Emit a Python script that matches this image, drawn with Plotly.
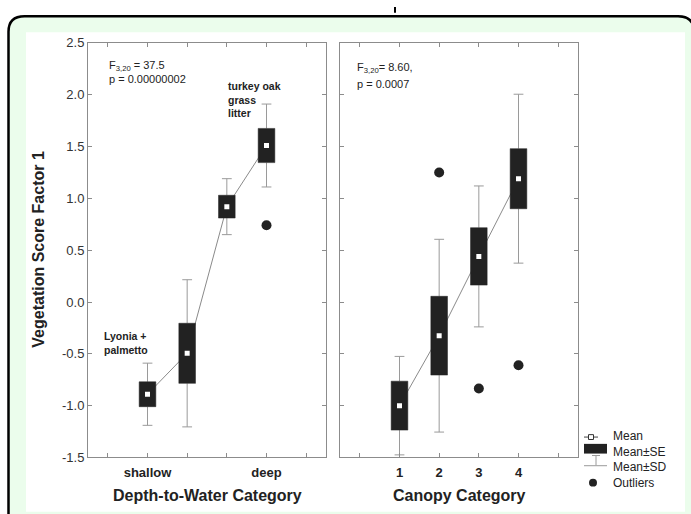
import plotly.graph_objects as go

W, H = 691, 514

# ---------------- data ----------------
positions = [1, 2, 3, 4]
depth_tickvals = [1, 4]
depth_ticktext = ["shallow", "deep"]
canopy_tickvals = [1, 2, 3, 4]
canopy_ticktext = ["1", "2", "3", "4"]

depth_mean = [-0.89, -0.495, 0.92, 1.51]
depth_se = [0.12, 0.29, 0.11, 0.165]
depth_sd = [0.30, 0.71, 0.27, 0.40]
depth_out_x = [4]
depth_out_y = [0.74]

canopy_mean = [-1.0, -0.325, 0.44, 1.19]
canopy_se = [0.236, 0.38, 0.277, 0.29]
canopy_sd = [0.475, 0.93, 0.68, 0.815]
canopy_out_x = [2, 3, 4]
canopy_out_y = [1.25, -0.835, -0.61]

y_tickvals = [-1.5, -1, -0.5, 0, 0.5, 1, 1.5, 2, 2.5]
y_ticktext = ["-1.5", "-1.0", "-0.5", "0.0", "0.5", "1.0", "1.5", "2.0", "2.5"]

legend_labels = ["Mean", "Mean±SE", "Mean±SD", "Outliers"]

BOX_HALF = 0.21
BOX_COLOR = "#222222"
WHISK_COLOR = "#9a9a9a"
LINE_COLOR = "#8a8a8a"
AXIS_COLOR = "#8c8c8c"
TXT = "#222222"
FONT = "Arial, Liberation Sans, sans-serif"


def px(x):
    return x / W


def py(y):
    return 1 - y / H


fig = go.Figure()


def add_panel(xa, ya, mean, se, sd, out_x, out_y):
    # connecting line of means
    fig.add_trace(go.Scatter(x=positions, y=mean, mode="lines",
                             line=dict(color=LINE_COLOR, width=1),
                             xaxis=xa, yaxis=ya, hoverinfo="skip"))
    # whiskers (outside the box)
    wx, wy = [], []
    cx, cy = [], []
    for p, m, s, d in zip(positions, mean, se, sd):
        wx += [p, p, None, p, p, None]
        wy += [m + s, m + d, None, m - s, m - d, None]
        cx += [p, p]
        cy += [m + d, m - d]
    fig.add_trace(go.Scatter(x=wx, y=wy, mode="lines",
                             line=dict(color=WHISK_COLOR, width=1),
                             xaxis=xa, yaxis=ya, hoverinfo="skip"))
    fig.add_trace(go.Scatter(x=cx, y=cy, mode="markers",
                             marker=dict(symbol="line-ew", size=7,
                                         line=dict(color=WHISK_COLOR, width=1)),
                             xaxis=xa, yaxis=ya, hoverinfo="skip"))
    # boxes (mean +- SE)
    bx, by = [], []
    for p, m, s in zip(positions, mean, se):
        bx += [p - BOX_HALF, p + BOX_HALF, p + BOX_HALF, p - BOX_HALF, p - BOX_HALF, None]
        by += [m - s, m - s, m + s, m + s, m - s, None]
    fig.add_trace(go.Scatter(x=bx, y=by, mode="lines", fill="toself",
                             fillcolor=BOX_COLOR, line=dict(color=BOX_COLOR, width=0.5),
                             xaxis=xa, yaxis=ya, hoverinfo="skip"))
    # mean markers
    fig.add_trace(go.Scatter(x=positions, y=mean, mode="markers",
                             marker=dict(symbol="square", size=5, color="white",
                                         line=dict(width=0)),
                             xaxis=xa, yaxis=ya, hoverinfo="skip"))
    # outliers
    fig.add_trace(go.Scatter(x=out_x, y=out_y, mode="markers",
                             marker=dict(symbol="circle", size=10, color=BOX_COLOR,
                                         line=dict(width=0)),
                             xaxis=xa, yaxis=ya, hoverinfo="skip"))


add_panel("x", "y", depth_mean, depth_se, depth_sd, depth_out_x, depth_out_y)
add_panel("x2", "y2", canopy_mean, canopy_se, canopy_sd, canopy_out_x, canopy_out_y)

ydom = [py(464), py(37)]
common_axis = dict(showline=True, linecolor=AXIS_COLOR, linewidth=1, mirror="ticks",
                   ticks="inside", ticklen=4, tickcolor=AXIS_COLOR, showgrid=False,
                   zeroline=False)
x_minor = dict(ticks="inside", tick0=0, dtick=1, ticklen=4, tickcolor=AXIS_COLOR, showgrid=False)
x_font = dict(size=13, family=FONT, color=TXT, weight="bold")

fig.update_layout(
    width=W, height=H, margin=dict(l=0, r=0, t=0, b=0),
    paper_bgcolor="white", plot_bgcolor="white", showlegend=False,
    font=dict(family=FONT, color=TXT),
    xaxis=dict(domain=[px(88), px(326)], range=[-0.5, 5.5], tickvals=depth_tickvals,
               ticktext=depth_ticktext, anchor="y", ticklabelstandoff=3, minor=x_minor,
               tickfont=x_font, **common_axis),
    yaxis=dict(domain=ydom, range=[-1.5, 2.5], tickvals=y_tickvals, ticktext=y_ticktext,
               anchor="x", tickfont=dict(size=13, color="#333333"), **common_axis),
    xaxis2=dict(domain=[px(340), px(578)], range=[-0.5, 5.5], tickvals=canopy_tickvals,
                ticktext=canopy_ticktext, anchor="y2", ticklabelstandoff=3, minor=x_minor,
                tickfont=x_font, **common_axis),
    yaxis2=dict(domain=ydom, range=[-1.5, 2.5], tickvals=y_tickvals,
                showticklabels=False, anchor="x2", **common_axis),
)

# ---------------- background frame ----------------
rx, ry = 16 / W, 16 / H
x0, y0, x1, y1 = px(8.5), py(9.5), px(694), py(530)
frame_path = (f"M {x0},{y1} L {x0},{y0 - ry} Q {x0},{y0} {x0 + rx},{y0} "
              f"L {x1 - rx},{y0} Q {x1},{y0} {x1},{y0 - ry} L {x1},{y1} Z")
shapes = [
    dict(type="path", path=frame_path, xref="paper", yref="paper",
         fillcolor="#ebfdec", line=dict(color="black", width=2.5), layer="below"),
    dict(type="rect", xref="paper", yref="paper", x0=px(26), x1=px(685), y0=py(26), y1=py(520),
         fillcolor="white", line=dict(width=0), layer="below"),
    dict(type="line", xref="paper", yref="paper", x0=px(395), x1=px(395), y0=py(0), y1=py(6),
         line=dict(color="black", width=2)),
]

# ---------------- legend (drawn manually) ----------------
shapes += [
    dict(type="line", xref="paper", yref="paper", x0=px(584), x1=px(598), y0=py(443), y1=py(443),
         line=dict(color="#444444", width=1)),
    dict(type="rect", xref="paper", yref="paper", x0=px(588.5), x1=px(593.5), y0=py(440.5), y1=py(445.5),
         fillcolor="white", line=dict(color="#333333", width=1)),
    dict(type="rect", xref="paper", yref="paper", x0=px(584), x1=px(607), y0=py(450), y1=py(460),
         fillcolor=BOX_COLOR, line=dict(width=0)),
    dict(type="line", xref="paper", yref="paper", x0=px(596), x1=px(596), y0=py(462), y1=py(472),
         line=dict(color=WHISK_COLOR, width=1)),
    dict(type="line", xref="paper", yref="paper", x0=px(592), x1=px(600), y0=py(462), y1=py(462),
         line=dict(color=WHISK_COLOR, width=1)),
    dict(type="line", xref="paper", yref="paper", x0=px(584), x1=px(607), y0=py(472.5), y1=py(472.5),
         line=dict(color=WHISK_COLOR, width=1)),
    dict(type="circle", xref="paper", yref="paper", x0=px(589), x1=px(597), y0=py(486), y1=py(494),
         fillcolor=BOX_COLOR, line=dict(width=0)),
]
fig.update_layout(shapes=shapes)


def ann(text, x, y, size=11, bold=False, xanchor="left", yanchor="middle", angle=0, color=TXT):
    fig.add_annotation(text=text, x=px(x), y=py(y), xref="paper", yref="paper",
                       xanchor=xanchor, yanchor=yanchor, showarrow=False, textangle=angle,
                       align="left",
                       font=dict(size=size, family=FONT, color=color,
                                 weight="bold" if bold else "normal"))


# stats text
ann("F<sub>3,20</sub> = 37.5", 107, 61)
ann("p = 0.00000002", 107, 74)
ann("F<sub>3,20</sub>= 8.60,", 355, 63)
ann("p = 0.0007", 355, 79)
# group labels
ann("turkey oak<br>grass<br>litter", 226, 95, size=10.5, bold=True)
ann("Lyonia +<br>palmetto", 102, 346, size=10.5, bold=True)
# axis titles
ann("Vegetation Score Factor 1", 39, 250, size=16, bold=True, xanchor="center", angle=-90)
ann("Depth-to-Water Category", 207, 503, size=16, bold=True, xanchor="center")
ann("Canopy Category", 459, 503, size=16, bold=True, xanchor="center")
# legend text
ann("<br>".join(legend_labels), 611, 466, size=12)

fig.write_html("out.html")
